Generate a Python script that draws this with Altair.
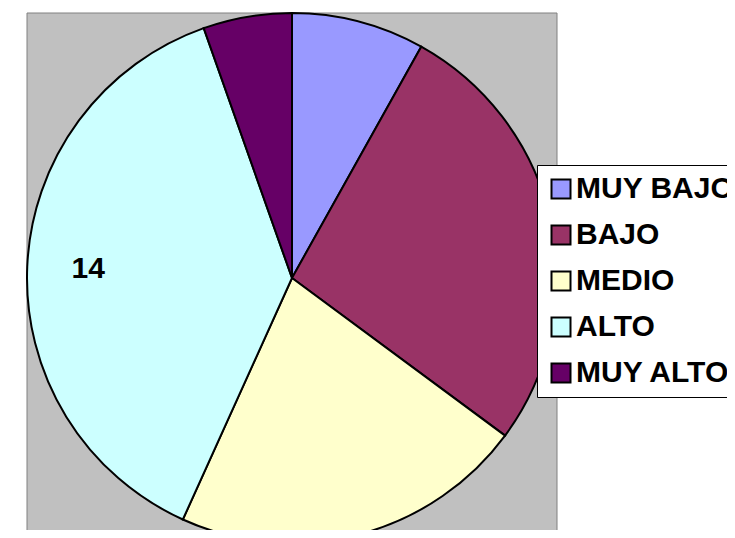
import altair as alt
import pandas as pd

categories = ["MUY BAJO", "BAJO", "MEDIO", "ALTO", "MUY ALTO"]
values = [3, 10, 8, 14, 2]
labels = ["", "", "", "14", ""]
colors = ["#9999FF", "#993366", "#FFFFCC", "#CCFFFF", "#660066"]

df = pd.DataFrame({
    "cat": categories,
    "val": values,
    "label": labels,
    "idx": list(range(len(categories))),
})

FONT = "Liberation Sans"
CX, CY, R = 284, 270, 265

bg = alt.Chart(pd.DataFrame({"a": [0]})).mark_rect(
    fill="#C0C0C0", stroke="#808080", strokeWidth=1
).encode(
    x=alt.value(19), x2=alt.value(549), y=alt.value(5), y2=alt.value(560)
)

base = alt.Chart(df).encode(
    theta=alt.Theta("val:Q", stack=True),
    order=alt.Order("idx:Q"),
)

pie = base.mark_arc(stroke="black", strokeWidth=2).encode(
    color=alt.Color(
        "cat:N",
        scale=alt.Scale(domain=categories, range=colors),
        sort=categories,
        legend=alt.Legend(
            title=None,
            orient="none",
            legendX=529,
            legendY=157,
            symbolType="square",
            symbolSize=361,
            symbolStrokeColor="black",
            symbolStrokeWidth=2,
            labelFont=FONT,
            labelFontSize=30,
            labelFontWeight="bold",
            labelColor="black",
            labelOffset=0,
            rowPadding=16,
            padding=9,
            fillColor="white",
            strokeColor="black",
            labelLimit=400,
        ),
    ),
    x=alt.value(CX),
    y=alt.value(CY),
    radius=alt.value(R),
)

text = base.mark_text(
    radius=204, font=FONT, fontSize=30, fontWeight="bold", color="black",
    align="center", baseline="middle"
).encode(
    text="label:N",
    x=alt.value(CX),
    y=alt.value(CY),
)

chart = alt.layer(bg, pie, text).properties(
    width=719, height=522, padding=0, autosize=alt.AutoSizeParams(type="none")
).configure_view(stroke=None)

chart.save("out.html", embed_options={"renderer": "svg", "actions": False})
